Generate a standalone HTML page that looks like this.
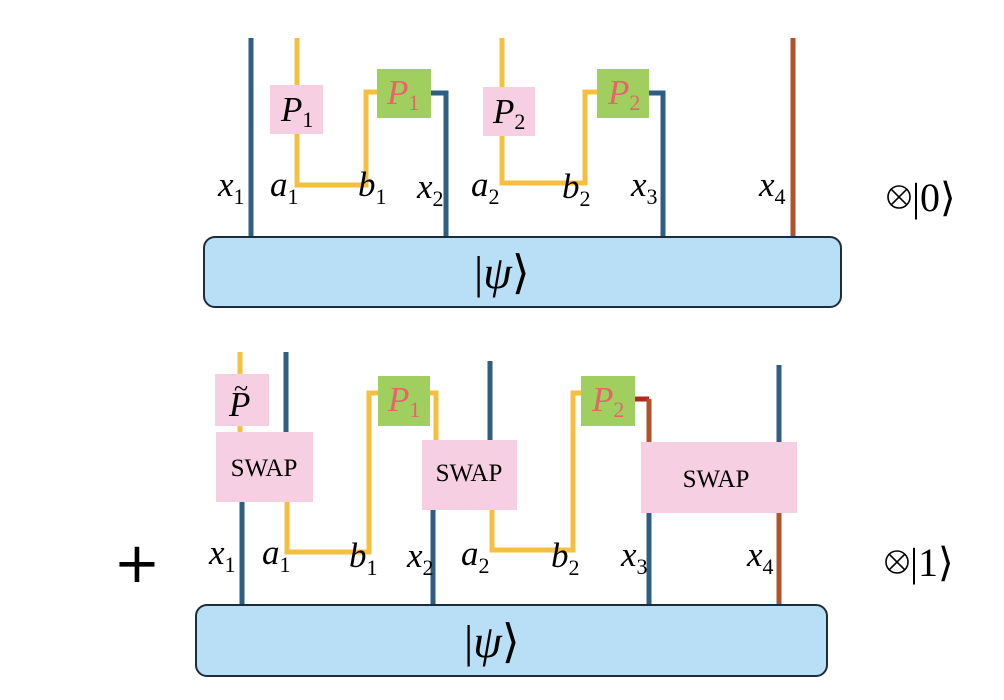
<!DOCTYPE html>
<html><head><meta charset="utf-8"><style>
html,body{margin:0;padding:0;background:#fff;}
svg{display:block}
.m{font-family:"Liberation Serif",serif;font-style:italic;font-size:35px;fill:#000}
.s{font-family:"Liberation Serif",serif;font-style:normal;font-size:22px}
.r{fill:#e8636a}
.sw{font-family:"Liberation Serif",serif;font-size:25px;fill:#000}
.k{font-family:"Liberation Serif",serif;font-size:40px;fill:#000}
</style></head><body>
<svg width="1004" height="700" viewBox="0 0 1004 700" xmlns="http://www.w3.org/2000/svg">
<g fill="none" stroke-width="5" stroke-linejoin="miter">
<line x1="251" y1="38" x2="251" y2="238" stroke="#2e5f80"/>
<polyline points="297,38 297,185 366,185 366,92 380,92" stroke="#f5c040"/>
<polyline points="428,93 446,93 446,238" stroke="#2e5f80"/>
<polyline points="502,38 502,183 585,183 585,92 600,92" stroke="#f5c040"/>
<polyline points="646,93 663,93 663,238" stroke="#2e5f80"/>
<line x1="793" y1="38" x2="793" y2="238" stroke="#b0522a"/>
<line x1="240" y1="352" x2="240" y2="432" stroke="#f5c040"/>
<line x1="286" y1="352" x2="286" y2="432" stroke="#2e5f80"/>
<line x1="242" y1="500" x2="242" y2="605" stroke="#2e5f80"/>
<polyline points="287,500 287,552 369,552 369,393 382,393" stroke="#f5c040"/>
<polyline points="428,393 436,393 436,442" stroke="#f5c040"/>
<line x1="490" y1="361" x2="490" y2="442" stroke="#2e5f80"/>
<line x1="433" y1="508" x2="433" y2="605" stroke="#2e5f80"/>
<polyline points="492,508 492,550 573,550 573,393 585,393" stroke="#f5c040"/>
<polyline points="633,399 649,399" stroke="#b02a20"/>
<line x1="649" y1="399" x2="649" y2="444" stroke="#b0522a"/>
<line x1="779" y1="365" x2="779" y2="444" stroke="#2e5f80"/>
<line x1="649" y1="511" x2="649" y2="605" stroke="#2e5f80"/>
<line x1="779" y1="511" x2="779" y2="605" stroke="#b0522a"/>
</g>
<rect x="270" y="85" width="53" height="49" fill="#f6d0e2"/>
<rect x="377" y="69" width="54" height="49" fill="#a0cf60"/>
<rect x="483" y="87" width="52" height="49" fill="#f6d0e2"/>
<rect x="597" y="69" width="52" height="49" fill="#a0cf60"/>
<text class="m" x="281" y="121">P<tspan class="s" dy="6">1</tspan></text>
<text class="m r" x="387" y="104">P<tspan class="s" dy="6">1</tspan></text>
<text class="m" x="493" y="123">P<tspan class="s" dy="6">2</tspan></text>
<text class="m r" x="608" y="104">P<tspan class="s" dy="6">2</tspan></text>
<text class="m" x="218" y="196">x<tspan class="s" dy="8">1</tspan></text>
<text class="m" x="270" y="196">a<tspan class="s" dy="8">1</tspan></text>
<text class="m" x="358" y="196">b<tspan class="s" dy="8">1</tspan></text>
<text class="m" x="417" y="198">x<tspan class="s" dy="8">2</tspan></text>
<text class="m" x="471" y="196">a<tspan class="s" dy="8">2</tspan></text>
<text class="m" x="562" y="198">b<tspan class="s" dy="8">2</tspan></text>
<text class="m" x="631" y="196">x<tspan class="s" dy="8">3</tspan></text>
<text class="m" x="759" y="196">x<tspan class="s" dy="8">4</tspan></text>
<g fill="none" stroke="#000" stroke-width="1.6">
<circle cx="899" cy="197" r="11"/><path d="M891.2,189.2L906.8,204.8M906.8,189.2L891.2,204.8"/>
<circle cx="897" cy="562" r="11"/><path d="M889.2,554.2L904.8,569.8M904.8,554.2L889.2,569.8"/>
</g>
<text class="k" x="912" y="211">|0⟩</text>
<text class="k" x="910" y="576">|1⟩</text>
<rect x="204" y="237" width="637" height="70" rx="11" fill="#b8dff5" stroke="#1d2e3a" stroke-width="2"/>
<text class="m" x="474" y="288" style="font-size:46px;font-style:normal">|<tspan style="font-style:italic">ψ</tspan>⟩</text>
<rect x="215" y="374" width="54" height="52" fill="#f6d0e2"/>
<text class="m" x="229" y="416">P</text>
<text class="m" x="234" y="397" style="font-size:26px;font-style:normal">~</text>
<rect x="216" y="432" width="97" height="70" fill="#f6d0e2"/>
<text class="sw" x="264" y="476" text-anchor="middle">SWAP</text>
<rect x="378" y="376" width="52" height="50" fill="#a0cf60"/>
<text class="m r" x="388" y="411">P<tspan class="s" dy="6">1</tspan></text>
<rect x="422" y="440" width="95" height="70" fill="#f6d0e2"/>
<text class="sw" x="469" y="481" text-anchor="middle">SWAP</text>
<rect x="581" y="376" width="54" height="50" fill="#a0cf60"/>
<text class="m r" x="592" y="411">P<tspan class="s" dy="6">2</tspan></text>
<rect x="641" y="442" width="156" height="71" fill="#f6d0e2"/>
<text class="sw" x="716" y="487" text-anchor="middle">SWAP</text>
<text class="m" x="209" y="564">x<tspan class="s" dy="8">1</tspan></text>
<text class="m" x="262" y="564">a<tspan class="s" dy="8">1</tspan></text>
<text class="m" x="349" y="567">b<tspan class="s" dy="8">1</tspan></text>
<text class="m" x="407" y="567">x<tspan class="s" dy="8">2</tspan></text>
<text class="m" x="461" y="565">a<tspan class="s" dy="8">2</tspan></text>
<text class="m" x="551" y="567">b<tspan class="s" dy="8">2</tspan></text>
<text class="m" x="621" y="566">x<tspan class="s" dy="8">3</tspan></text>
<text class="m" x="747" y="566">x<tspan class="s" dy="8">4</tspan></text>
<text x="137" y="582" text-anchor="middle" style="font-family:'DejaVu Sans',sans-serif;font-size:56px">+</text>
<rect x="196" y="605" width="631" height="71" rx="11" fill="#b8dff5" stroke="#1d2e3a" stroke-width="2"/>
<text class="m" x="464" y="657" style="font-size:46px;font-style:normal">|<tspan style="font-style:italic">ψ</tspan>⟩</text>
</svg>
</body></html>
